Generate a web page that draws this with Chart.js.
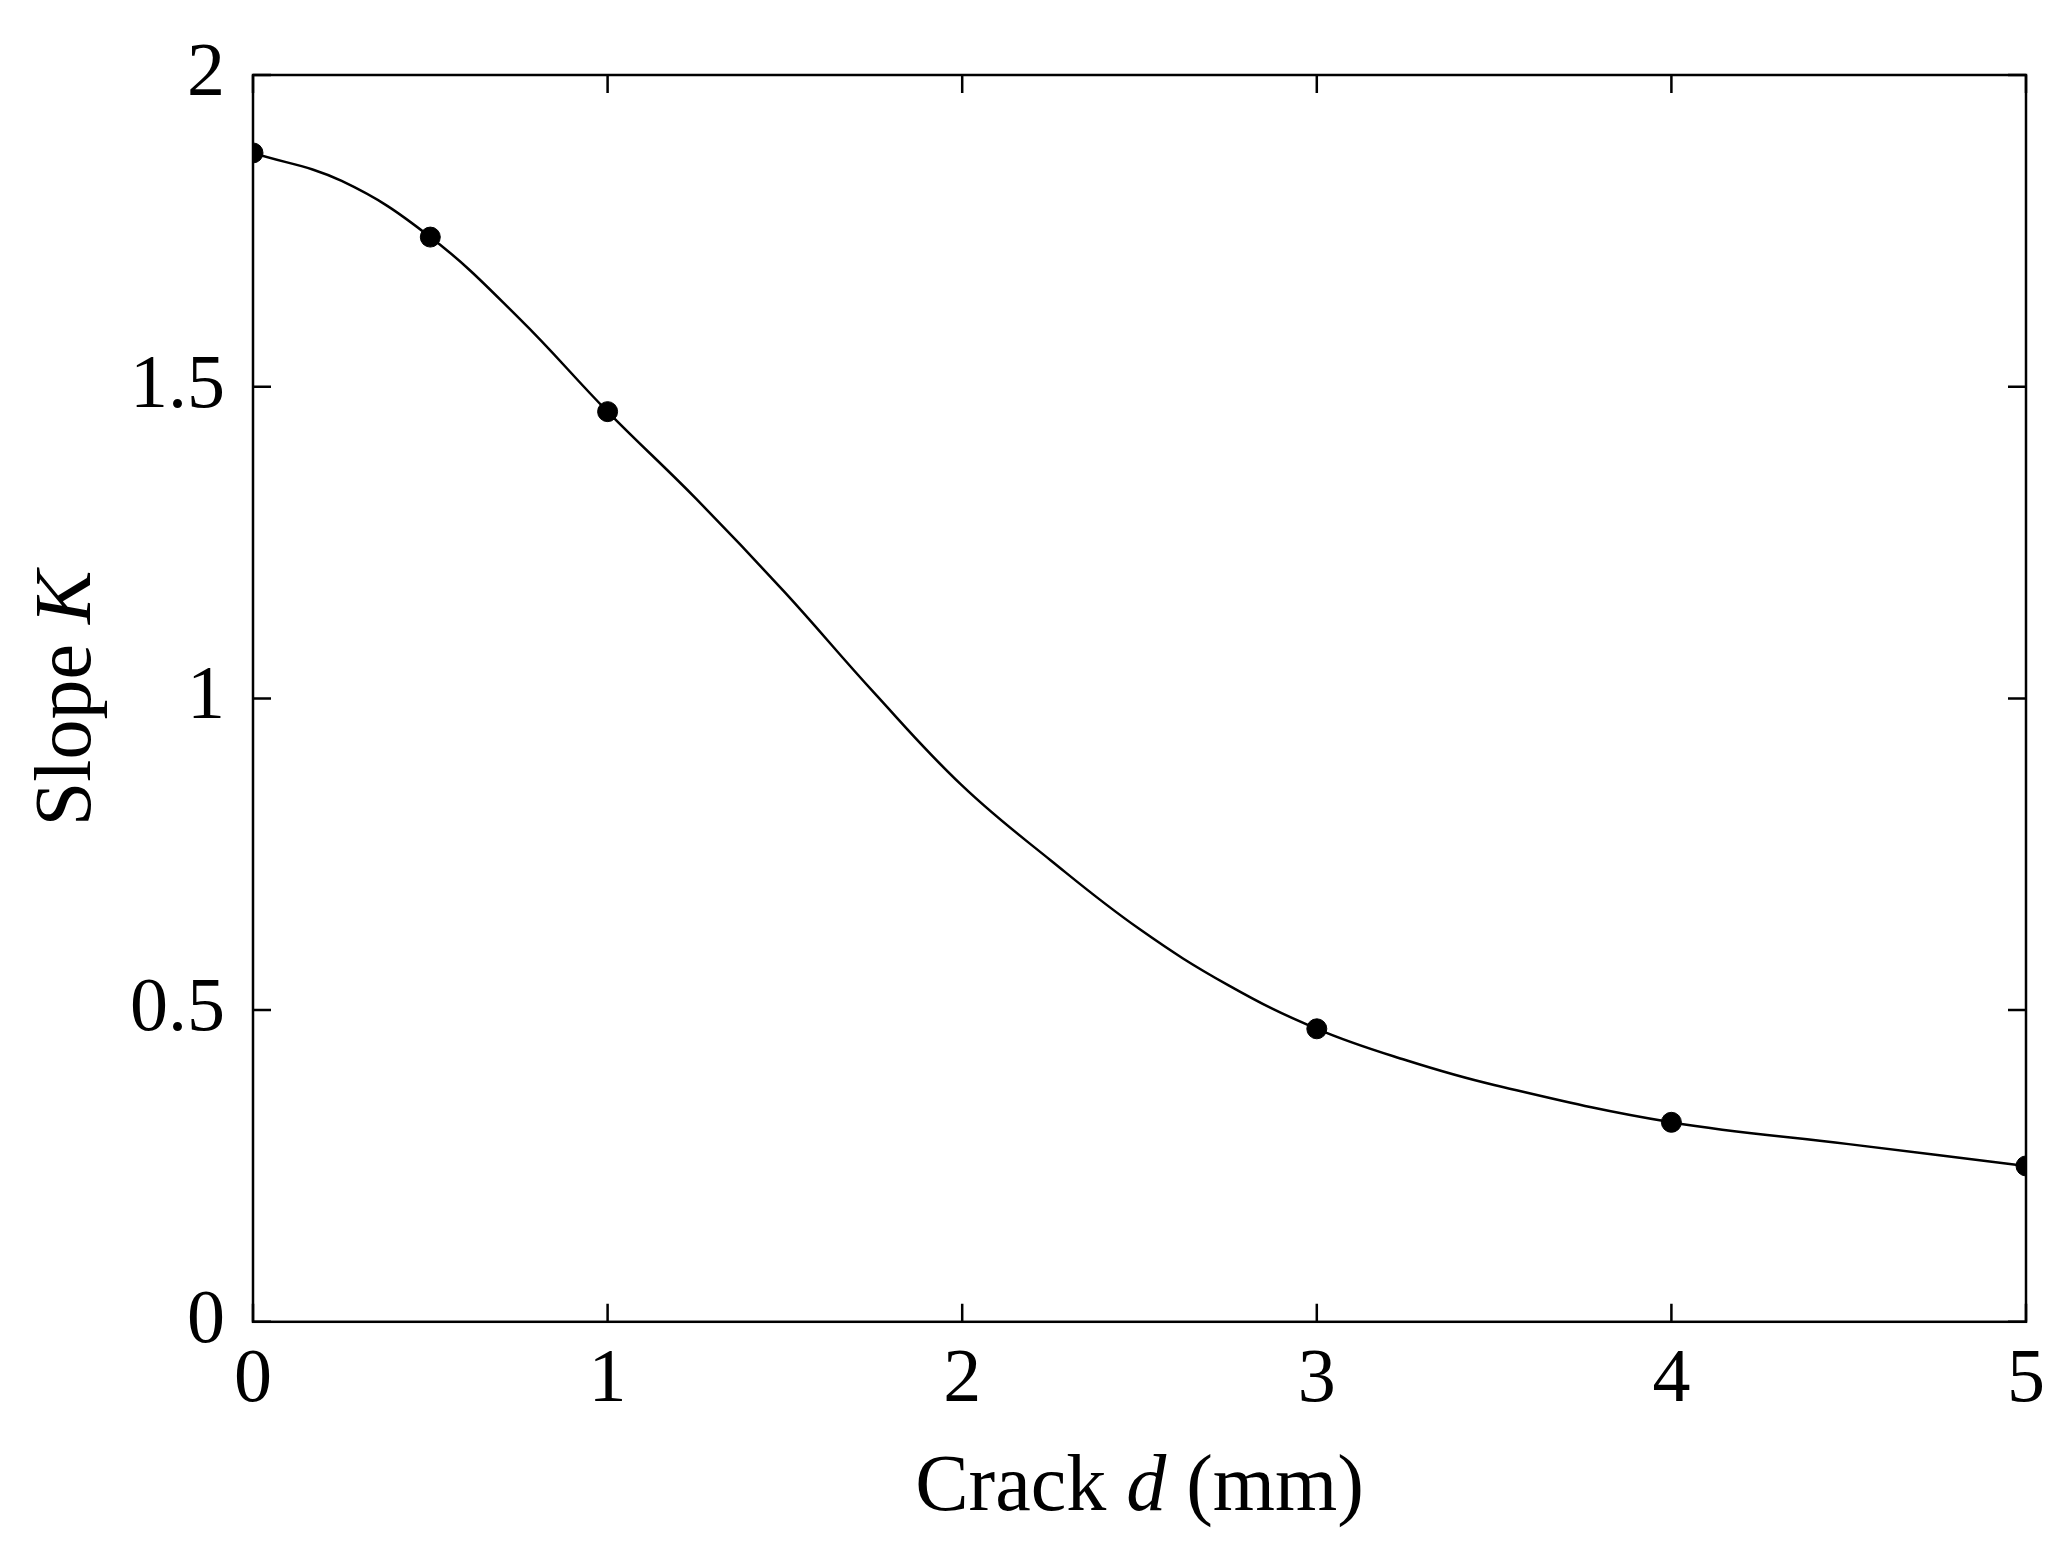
<!DOCTYPE html>
<html><head><meta charset="utf-8">
<script src="https://cdn.jsdelivr.net/npm/chart.js@4"></script>
<style>html,body{margin:0;background:#fff}#w{width:2066px;height:1543px}</style>
</head><body><div id="w"><canvas id="c"></canvas></div>
<script>
const pointX=[0,0.5,1,3,4,5];
const pointY=[1.875,1.74,1.46,0.47,0.32,0.25];
const curveX=[0,0.25,0.5,0.75,1,1.25,1.5,1.75,2,2.25,2.5,2.75,3,3.25,3.5,4,4.5,5];
const curveY=[1.875,1.83,1.74,1.61,1.46,1.32,1.17,1.01,0.86,0.74,0.63,0.54,0.47,0.42,0.38,0.32,0.285,0.25];
const xTicks=[0,1,2,3,4,5];
const yTicks=[0,0.5,1,1.5,2];
const F='"Liberation Serif", "Times New Roman", serif';
const frame={id:'frame',afterDraw(ch){
 const {ctx,chartArea:a,scales:{x,y}}=ch;ctx.save();ctx.strokeStyle='#000';ctx.lineWidth=2.5;
 ctx.strokeRect(a.left,a.top,a.right-a.left,a.bottom-a.top);const L=18;ctx.beginPath();
 xTicks.forEach(v=>{const p=x.getPixelForValue(v);ctx.moveTo(p,a.bottom);ctx.lineTo(p,a.bottom-L);ctx.moveTo(p,a.top);ctx.lineTo(p,a.top+L);});
 yTicks.forEach(v=>{const p=y.getPixelForValue(v);ctx.moveTo(a.left,p);ctx.lineTo(a.left+L,p);ctx.moveTo(a.right,p);ctx.lineTo(a.right-L,p);});
 ctx.stroke();
 ctx.fillStyle='#000';ctx.textBaseline='alphabetic';
 const parts=(arr)=>arr.map(([t,it])=>{ctx.font=(it?'italic ':'')+'80px '+F;return [t,it,ctx.measureText(t).width];});
 let px=parts([['Crack ',0],['d',1],[' (mm)',0]]);let tw=px.reduce((s,p)=>s+p[2],0);
 let cx=(a.left+a.right)/2-tw/2;px.forEach(([t,it,w])=>{ctx.font=(it?'italic ':'')+'80px '+F;ctx.textAlign='left';ctx.fillText(t,cx,1510);cx+=w;});
 let py=parts([['Slope ',0],['K',1]]);tw=py.reduce((s,p)=>s+p[2],0);
 ctx.translate(90,(a.top+a.bottom)/2);ctx.rotate(-Math.PI/2);cx=-tw/2;
 py.forEach(([t,it,w])=>{ctx.font=(it?'italic ':'')+'80px '+F;ctx.textAlign='left';ctx.fillText(t,cx,0);cx+=w;});
 ctx.restore();}};
new Chart(document.getElementById('c'),{type:'scatter',
 data:{datasets:[
  {data:curveX.map((v,i)=>({x:v,y:curveY[i]})),showLine:true,tension:0.4,borderColor:'#000',borderWidth:2.5,pointRadius:0},
  {data:pointX.map((v,i)=>({x:v,y:pointY[i]})),backgroundColor:'#000',borderColor:'#000',pointRadius:10}
 ]},
 options:{responsive:true,maintainAspectRatio:false,animation:false,
  layout:{padding:{top:75,right:40,left:110,bottom:110}},
  plugins:{legend:{display:false},tooltip:{enabled:false}},
  scales:{
   x:{type:'linear',min:0,max:5,afterBuildTicks:s=>{s.ticks=xTicks.map(v=>({value:v}))},
      grid:{display:false},border:{display:false},
      ticks:{color:'#000',font:{family:F,size:76},padding:6},title:{display:false}},
   y:{min:0,max:2,afterBuildTicks:s=>{s.ticks=yTicks.map(v=>({value:v}))},
      grid:{display:false},border:{display:false},
      ticks:{color:'#000',font:{family:F,size:76},padding:20,callback:v=>String(v)},title:{display:false}}
  }},
 plugins:[frame]});
</script></body></html>
